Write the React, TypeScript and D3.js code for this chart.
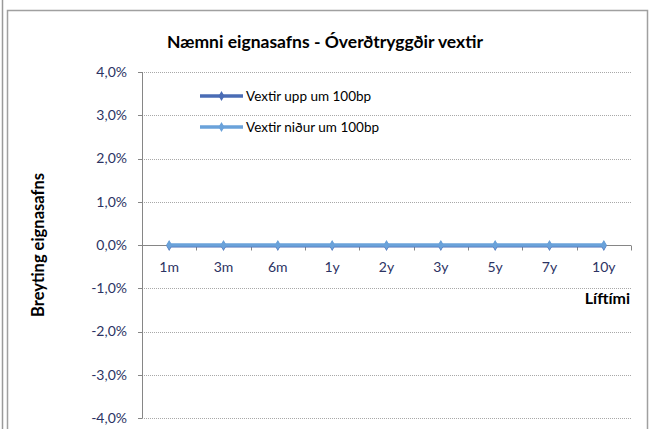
import React, { useRef, useEffect } from 'react';
import * as d3 from 'd3';

const categories = ['1m', '3m', '6m', '1y', '2y', '3y', '5y', '7y', '10y'];
const upValues = [-0.0002, -0.0002, -0.0002, -0.0002, -0.0002, -0.0002, -0.0002, -0.0002, -0.0002];
const downValues = [0, 0, 0, 0, 0, 0, 0, 0, 0];
const yTicks = [0.04, 0.03, 0.02, 0.01, 0, -0.01, -0.02, -0.03, -0.04];
const seriesNames = ['Vextir upp um 100bp', 'Vextir niður um 100bp'];
const seriesColors = ['#4A6CB5', '#6AA2DA'];

function App() {
    const svgRef = useRef(null);

    useEffect(() => {
        const svg = d3.select(svgRef.current);
        svg.selectAll('*').remove();
        const height = 429;
        const font = 'Lato, "Open Sans", sans-serif';
        const left = 142, right = 631, top = 72, bottom = 418;

        // frame
        svg.append('line').attr('x1', 2.5).attr('x2', 2.5).attr('y1', 0).attr('y2', height)
            .attr('stroke', '#9a9a9a').attr('stroke-width', 1.5);
        svg.append('path').attr('d', `M7.5,${height}V10.5H647.5V${height}`)
            .attr('fill', 'none').attr('stroke', '#a0a0a0').attr('stroke-width', 1.5);

        const x = d3.scaleBand().domain(categories).range([left, right]);
        const y = d3.scaleLinear().domain([-0.04, 0.04]).range([bottom, top]);
        const fmt = (v) => d3.format('.1%')(v).replace('.', ',').replace('−', '-');

        // grid
        svg.append('g').selectAll('line').data(yTicks.filter(d => d !== 0)).join('line')
            .attr('x1', left).attr('x2', right)
            .attr('y1', d => Math.round(y(d)) + 0.5).attr('y2', d => Math.round(y(d)) + 0.5)
            .attr('stroke', '#a8a8a8').attr('stroke-dasharray', '1,1');

        // y axis
        svg.append('line').attr('x1', left + 0.5).attr('x2', left + 0.5).attr('y1', top).attr('y2', bottom)
            .attr('stroke', '#868686');
        svg.append('g').selectAll('line').data(yTicks).join('line')
            .attr('x1', left - 4).attr('x2', left)
            .attr('y1', d => Math.round(y(d)) + 0.5).attr('y2', d => Math.round(y(d)) + 0.5)
            .attr('stroke', '#868686');
        svg.append('g').selectAll('text').data(yTicks).join('text')
            .attr('x', left - 15).attr('y', d => y(d)).attr('dy', '0.35em')
            .attr('text-anchor', 'end').attr('font-family', font).attr('font-size', 14)
            .attr('fill', '#2C3363').text(d => fmt(d));

        // x axis at zero
        const y0 = Math.round(y(0)) + 0.5;
        svg.append('line').attr('x1', left).attr('x2', right).attr('y1', y0).attr('y2', y0)
            .attr('stroke', '#868686');
        const bounds = categories.map(c => x(c)).concat([right]);
        svg.append('g').selectAll('line').data(bounds).join('line')
            .attr('x1', d => Math.round(d) + 0.5).attr('x2', d => Math.round(d) + 0.5)
            .attr('y1', y0).attr('y2', y0 + 5).attr('stroke', '#868686');
        svg.append('g').selectAll('text').data(categories).join('text')
            .attr('x', d => x(d) + x.bandwidth() / 2).attr('y', 267).attr('dy', '0.35em')
            .attr('text-anchor', 'middle').attr('font-family', font).attr('font-size', 14)
            .attr('fill', '#2C3363').text(d => d);

        // series
        const line = d3.line().x((d, i) => x(categories[i]) + x.bandwidth() / 2).y(d => y(d));
        [upValues, downValues].forEach((vals, k) => {
            svg.append('path').datum(vals).attr('d', line)
                .attr('fill', 'none').attr('stroke', seriesColors[k]).attr('stroke-width', 3.5);
            svg.append('g').selectAll('path').data(vals).join('path')
                .attr('d', d3.symbol(d3.symbolDiamond, 30))
                .attr('transform', (d, i) => `translate(${x(categories[i]) + x.bandwidth() / 2},${y(d)})`)
                .attr('fill', seriesColors[k]);
        });

        // legend
        seriesNames.forEach((name, k) => {
            const ly = 96 + k * 31;
            svg.append('line').attr('x1', 200).attr('x2', 243).attr('y1', ly).attr('y2', ly)
                .attr('stroke', seriesColors[k]).attr('stroke-width', 3.5);
            svg.append('path').attr('d', d3.symbol(d3.symbolDiamond, 30))
                .attr('transform', `translate(221.5,${ly})`).attr('fill', seriesColors[k]);
            svg.append('text').attr('x', 246).attr('y', ly).attr('dy', '0.35em')
                .attr('font-family', font).attr('font-size', 13.5).attr('fill', '#000').text(name);
        });

        // titles
        svg.append('text').attr('x', 325).attr('y', 42).attr('dy', '0.35em')
            .attr('text-anchor', 'middle').attr('font-family', font).attr('font-size', 17.5)
            .attr('font-weight', 'bold').attr('fill', '#000')
            .text('Næmni eignasafns - Óverðtryggðir vextir');
        svg.append('text').attr('transform', 'translate(38,245) rotate(-90)').attr('dy', '0.35em')
            .attr('text-anchor', 'middle').attr('font-family', font).attr('font-size', 16.5)
            .attr('font-weight', 'bold').attr('fill', '#000').text('Breyting eignasafns');
        svg.append('text').attr('x', 630).attr('y', 298).attr('dy', '0.35em')
            .attr('text-anchor', 'end').attr('font-family', font).attr('font-size', 16)
            .attr('font-weight', 'bold').attr('fill', '#000').text('Líftími');
    }, []);

    return (
        <div style={{ position: 'fixed', left: 0, top: 0 }}>
            <svg ref={svgRef} width={652} height={429} style={{ display: 'block', background: '#fff' }}></svg>
        </div>
    );
}

export default App;
